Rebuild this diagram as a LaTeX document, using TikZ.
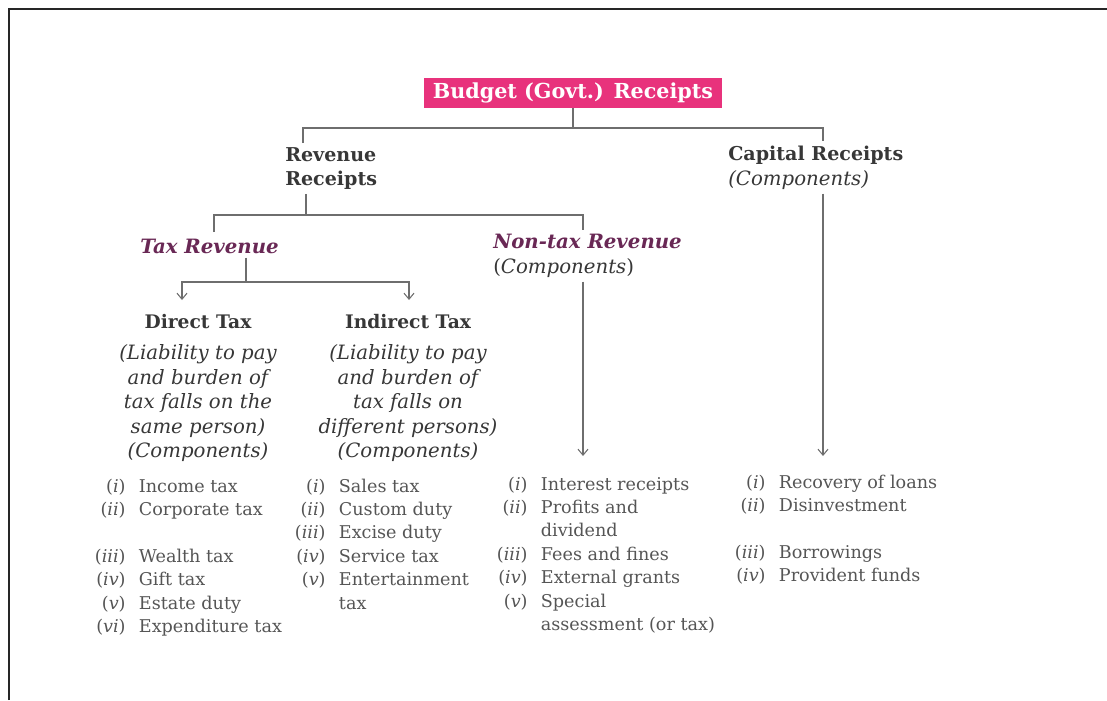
\documentclass[tikz,border=0pt]{standalone}
\usepackage{fontspec}
\setmainfont{DejaVu Serif}
\usetikzlibrary{arrows.meta,positioning}

\definecolor{budpink}{RGB}{232,50,124}
\definecolor{taxpurple}{RGB}{105,40,85}
\definecolor{headgray}{RGB}{55,55,55}
\definecolor{listgray}{RGB}{85,85,85}
\definecolor{linegray}{RGB}{110,110,110}

% list entry: right-aligned roman numeral, then the text
\newcommand\itm[2]{\makebox[28pt][r]{(\textit{#1})}\hspace{10pt}#2}
\newcommand\cont[1]{\hspace{38pt}#1}

\begin{document}
\begin{tikzpicture}[x=0.75pt,y=-0.75pt,
  >={Straight Barb[length=4.5pt,width=7.5pt]},
  box/.style={fill=budpink,text=white,font=\fontsize{15.5}{18}\selectfont\bfseries,minimum width=223pt,minimum height=22.5pt,inner sep=0pt},
  head/.style={text=headgray,font=\fontsize{14.3}{18.4}\selectfont\bfseries,align=left,inner sep=0pt},
  sub/.style={text=taxpurple,font=\fontsize{14.8}{18.4}\selectfont\bfseries\itshape,align=left,inner sep=0pt},
  desc/.style={text=headgray,font=\fontsize{14.8}{18.4}\selectfont\itshape,align=center,inner sep=0pt},
  lst/.style={text=listgray,font=\fontsize{13.2}{17.6}\selectfont,inner sep=0pt,anchor=base west},
  line/.style={draw=linegray,line width=0.8pt},
  arr/.style={line,->}
]
\useasboundingbox (0,0) rectangle (1107,700);
% frame
\draw[line width=1.9pt,black!85] (9,700) -- (9,9) -- (1107,9);

% top
\node[box] (budget) at (573,93) {Budget (Govt.) Receipts};
\node[head,anchor=north west] (rev) at (285,147) {Revenue\\Receipts};
\node[head,anchor=north west] (cap) at (728,146) {Capital Receipts\\\mdseries\itshape\fontsize{14.8}{18.4}\selectfont(Components)};

% second level
\node[sub,anchor=west] (tax) at (140,246) {Tax Revenue};
\node[sub,anchor=north west] (non) at (493,234) {Non-tax Revenue\\{\color{headgray}\mdseries\upshape(\textit{Components})}};

% tax kinds
\node[desc,anchor=north] (dir) at (198,314) {{\upshape\bfseries\fontsize{14}{18}\selectfont Direct Tax}\\[5pt]
  (Liability to pay\\and burden of\\tax falls on the\\same person)\\(Components)};
\node[desc,anchor=north] (ind) at (408,314) {{\upshape\bfseries\fontsize{14}{18}\selectfont Indirect Tax}\\[5pt]
  (Liability to pay\\and burden of\\tax falls on\\different persons)\\(Components)};

% component lists
\node[lst] (dirl) at (88,492) {\begin{tabular}[t]{@{}l@{}}
  \itm{i}{Income tax}\\ \itm{ii}{Corporate tax}\\ \\ \itm{iii}{Wealth tax}\\
  \itm{iv}{Gift tax}\\ \itm{v}{Estate duty}\\ \itm{vi}{Expenditure tax}\end{tabular}};
\node[lst] (indl) at (288,492) {\begin{tabular}[t]{@{}l@{}}
  \itm{i}{Sales tax}\\ \itm{ii}{Custom duty}\\ \itm{iii}{Excise duty}\\
  \itm{iv}{Service tax}\\ \itm{v}{Entertainment}\\ \cont{tax}\end{tabular}};
\node[lst] (nonl) at (490,490) {\begin{tabular}[t]{@{}l@{}}
  \itm{i}{Interest receipts}\\ \itm{ii}{Profits and}\\ \cont{dividend}\\
  \itm{iii}{Fees and fines}\\ \itm{iv}{External grants}\\ \itm{v}{Special}\\
  \cont{assessment (or tax)}\end{tabular}};
\node[lst] (capl) at (728,488) {\begin{tabular}[t]{@{}l@{}}
  \itm{i}{Recovery of loans}\\ \itm{ii}{Disinvestment}\\ \\
  \itm{iii}{Borrowings}\\ \itm{iv}{Provident funds}\end{tabular}};

% junctions
\coordinate (bud-j) at (573,128);
\coordinate (rev-t) at (303,143);
\coordinate (cap-t) at (823,141);
\coordinate (rev-j) at (306,215);
\coordinate (tax-t) at (214,232);
\coordinate (non-t) at (583,230);
\coordinate (tax-j) at (246,282);
\coordinate (dir-t) at (182,300);
\coordinate (ind-t) at (409,300);
\coordinate (non-e) at (583,456);
\coordinate (cap-e) at (823,456);

% connectors
\draw[line] (budget.south) -- (bud-j);
\draw[line] (rev-t) |- (bud-j) -| (cap-t);
\draw[line,shorten <=3pt] (rev.south -| rev-j) -- (rev-j);
\draw[line] (tax-t) |- (rev-j) -| (non-t);
\draw[line,shorten <=3pt] (tax.south -| tax-j) -- (tax-j);
\draw[arr] (tax-j) -| (dir-t);
\draw[arr] (tax-j) -| (ind-t);
\draw[arr,shorten <=3pt] (non.south -| non-e) -- (non-e);
\draw[arr,shorten <=3pt] (cap.south -| cap-e) -- (cap-e);
\end{tikzpicture}
\end{document}
